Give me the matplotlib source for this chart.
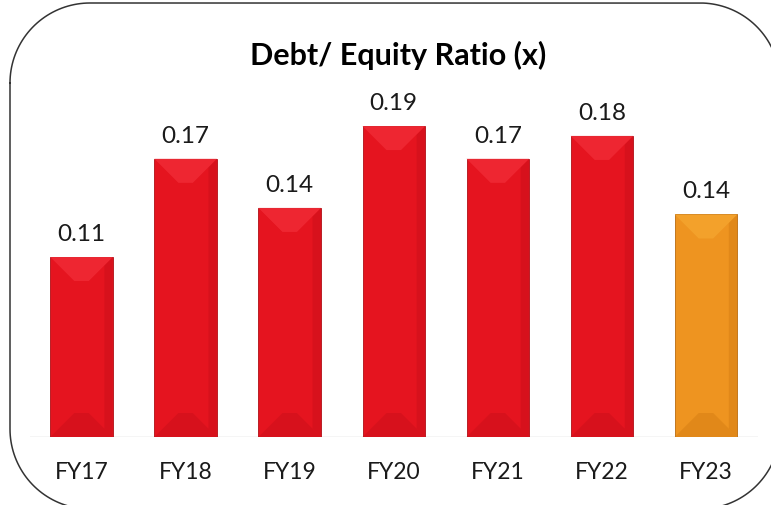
import matplotlib
matplotlib.use("Agg")
import matplotlib.pyplot as plt
import numpy as np
from matplotlib.patches import Polygon

categories = ["FY17", "FY18", "FY19", "FY20", "FY21", "FY22", "FY23"]
values = [0.11, 0.17, 0.14, 0.19, 0.17, 0.184, 0.136]
title = "Debt/ Equity Ratio (x)"

W, H = 771, 506
fig = plt.figure(figsize=(W / 100, H / 100), dpi=100)
fig.patch.set_facecolor("white")

# rounded frame in pixel coordinates (image coords, y down)
bg = fig.add_axes([0, 0, 1, 1])
bg.set_xlim(0, W)
bg.set_ylim(H, 0)
bg.axis("off")
fx0, fx1, fy0, fy1, r = 10, 780, 4, 510, 80
pts = []
def arc(cx, cy, a0, a1):
    t = np.linspace(np.radians(a0), np.radians(a1), 40)
    return list(zip(cx + r * np.cos(t), cy + r * np.sin(t)))
pts += arc(fx0 + r, fy0 + r, 180, 270)      # top-left
pts += arc(fx1 - r, fy0 + r, 270, 360)      # top-right
pts += arc(fx1 - r, fy1 - r, 0, 90)         # bottom-right
pts += arc(fx0 + r, fy1 - r, 90, 180)       # bottom-left
pts.append(pts[0])
px, py = zip(*pts)
bg.plot(px, py, color="#333333", linewidth=1.1)

ax_left, ax_right = 29.5, 758
ax_bottom, ax_top = 438, 78
ax = fig.add_axes([ax_left / W, (H - ax_bottom) / H, (ax_right - ax_left) / W, (ax_bottom - ax_top) / H])
ax.patch.set_alpha(0)
ymax = 0.22
ax.set_xlim(-0.5, len(categories) - 0.5)
ax.set_ylim(0, ymax)

bw = 0.6
px_x = (ax_right - ax_left) / len(categories)
px_y = (ax_bottom - ax_top) / ymax
bev_x = 24 / px_x
bev_y = 24 / px_y

for i, v in enumerate(values):
    last = i == len(values) - 1
    if last:
        main, light, dark, edge = "#EE9420", "#F4A42E", "#D27B12", "#B86A0E"
    else:
        main, light, dark, edge = "#E5141F", "#F02A35", "#C80F19", "#B00E16"
    ax.bar(i, v, width=bw, color=main, edgecolor=edge, linewidth=0.6, zorder=2)
    x0, x1 = i - bw / 2, i + bw / 2
    ax.add_patch(Polygon([(x1, 0), (x1, v), (x1 - bev_x * 0.35, v - bev_y * 0.35),
                          (x1 - bev_x * 0.35, bev_y * 0.35)], closed=True,
                         facecolor=dark, edgecolor="none", alpha=0.45, zorder=3))
    ax.add_patch(Polygon([(x0, v), (x1, v), (x1 - bev_x, v - bev_y), (x0 + bev_x, v - bev_y)],
                         closed=True, facecolor=light, edgecolor="none", alpha=0.85, zorder=3))
    ax.add_patch(Polygon([(x0, 0), (x1, 0), (x1 - bev_x, bev_y), (x0 + bev_x, bev_y)],
                         closed=True, facecolor=dark, edgecolor="none", alpha=0.45, zorder=3))
    ax.text(i, v + 0.008, f"{v:.2f}", ha="center", va="bottom", fontsize=17.5,
            family="Lato", color="#1a1a1a")

ax.axhline(0, color="#d0d0d0", linewidth=1.0, zorder=1)
for s in ax.spines.values():
    s.set_visible(False)
ax.set_yticks([])
ax.set_xticks(range(len(categories)))
ax.set_xticklabels(categories, fontsize=16.5, family="Lato", color="#1a1a1a")
ax.tick_params(axis="x", length=0, pad=17)

fig.text(398 / W, 1 - 55 / H, title, ha="center", va="center", fontsize=22,
         fontweight="bold", family="Lato", color="#000000")

fig.savefig("out.png", dpi=100, facecolor="white")
